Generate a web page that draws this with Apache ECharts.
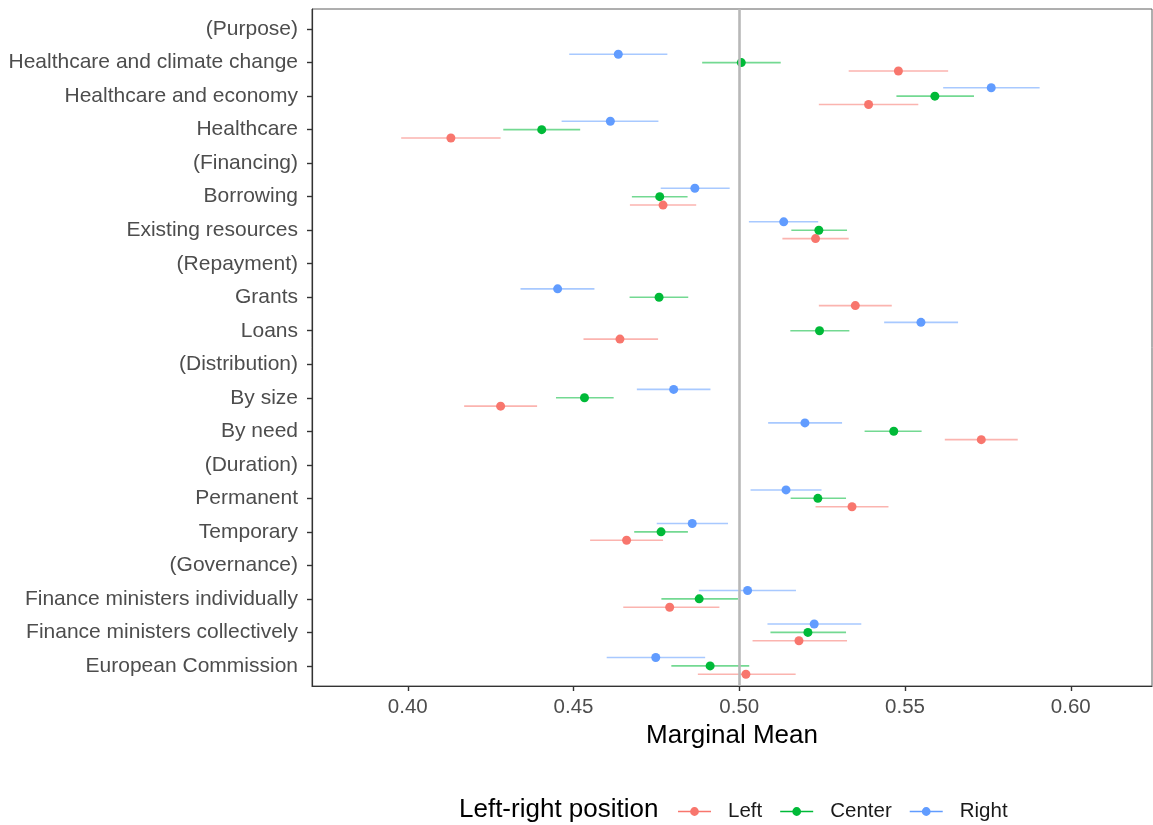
<!DOCTYPE html>
<html>
<head>
<meta charset="utf-8">
<script src="https://cdn.jsdelivr.net/npm/echarts@6/dist/echarts.min.js"></script>
<style>
  html, body { margin: 0; padding: 0; background: #fff; }
  #chart { width: 1153px; height: 825px; }
</style>
</head>
<body>
<div id="chart"></div>
<script>
const categories = ["(Purpose)","Healthcare and climate change","Healthcare and economy","Healthcare","(Financing)","Borrowing","Existing resources","(Repayment)","Grants","Loans","(Distribution)","By size","By need","(Duration)","Permanent","Temporary","(Governance)","Finance ministers individually","Finance ministers collectively","European Commission"];

const leftEst = [null, 0.548, 0.539, 0.413, null, 0.477, 0.523, null, 0.535, 0.464, null, 0.428, 0.573, null, 0.534, 0.466, null, 0.479, 0.518, 0.502];
const leftLo  = [null, 0.533, 0.524, 0.398, null, 0.467, 0.513, null, 0.524, 0.453, null, 0.417, 0.562, null, 0.523, 0.455, null, 0.465, 0.504, 0.4875];
const leftHi  = [null, 0.563, 0.554, 0.428, null, 0.487, 0.533, null, 0.546, 0.4755, null, 0.439, 0.584, null, 0.545, 0.477, null, 0.494, 0.5325, 0.517];

const centerEst = [null, 0.5006, 0.559, 0.4404, null, 0.476, 0.524, null, 0.4758, 0.5242, null, 0.4533, 0.5466, null, 0.5237, 0.4764, null, 0.4879, 0.5207, 0.4912];
const centerLo  = [null, 0.4888, 0.5474, 0.4288, null, 0.4676, 0.5157, null, 0.4669, 0.5154, null, 0.4447, 0.5378, null, 0.5155, 0.4683, null, 0.4765, 0.5094, 0.4795];
const centerHi  = [null, 0.5125, 0.5708, 0.452, null, 0.4844, 0.5325, null, 0.4846, 0.5332, null, 0.4621, 0.555, null, 0.5322, 0.4845, null, 0.4996, 0.5322, 0.503];

const rightEst = [null, 0.4635, 0.576, 0.4611, null, 0.4866, 0.5134, null, 0.4452, 0.5548, null, 0.4802, 0.5198, null, 0.5141, 0.4858, null, 0.5025, 0.5226, 0.4748];
const rightLo  = [null, 0.4487, 0.5615, 0.4464, null, 0.4763, 0.5029, null, 0.434, 0.5437, null, 0.4691, 0.5087, null, 0.5034, 0.4751, null, 0.4878, 0.5085, 0.46];
const rightHi  = [null, 0.4783, 0.5906, 0.4756, null, 0.4971, 0.5238, null, 0.4563, 0.566, null, 0.4913, 0.531, null, 0.5248, 0.4966, null, 0.5171, 0.5368, 0.4897];

const xTicks = [0.40, 0.45, 0.50, 0.55, 0.60];
const seriesNames = ["Left", "Center", "Right"];
const colors = ["#F8766D", "#00BA38", "#619CFF"];
const dodge = [0.25, 0, -0.25];

const FONT = '"Liberation Sans", Arial, Helvetica, sans-serif';
const groups = [
  [leftEst, leftLo, leftHi],
  [centerEst, centerLo, centerHi],
  [rightEst, rightLo, rightHi]
];

const series = [];
groups.forEach((g, k) => {
  const [est, lo, hi] = g;
  const ciData = [];
  const ptData = [];
  est.forEach((v, i) => {
    if (v == null) return;
    ciData.push([lo[i], hi[i], i + dodge[k]]);
    ptData.push([v, i + dodge[k]]);
  });
  series.push({
    name: seriesNames[k] + ' CI',
    type: 'custom',
    z: 2,
    silent: true,
    encode: { x: [0, 1], y: 2 },
    data: ciData,
    renderItem: (params, api) => {
      const p1 = api.coord([api.value(0), api.value(2)]);
      const p2 = api.coord([api.value(1), api.value(2)]);
      return {
        type: 'line',
        shape: { x1: p1[0], y1: p1[1], x2: p2[0], y2: p2[1] },
        style: { stroke: colors[k], lineWidth: 1.6, opacity: 0.55 }
      };
    }
  });
  series.push({
    name: seriesNames[k],
    type: 'scatter',
    z: 3,
    symbol: 'circle',
    symbolSize: 9,
    itemStyle: { color: colors[k], opacity: 1 },
    data: ptData
  });
});

// vertical reference line at 0.5
series.push({
  name: 'ref',
  type: 'line',
  z: 1,
  silent: true,
  data: [],
  markLine: {
    silent: true,
    symbol: 'none',
    label: { show: false },
    lineStyle: { color: '#B8B8B8', width: 2.6, type: 'solid' },
    data: [{ xAxis: 0.5 }]
  }
});

const legendIcon = 'path://M0,3.25 L33,3.25 L33,4.75 L0,4.75 Z M12.1,4 A4.4,4.4 0 1 1 20.9,4 A4.4,4.4 0 1 1 12.1,4 Z';

const option = {
  animation: false,
  backgroundColor: '#ffffff',
  textStyle: { fontFamily: FONT },
  title: {
    text: 'Left-right position',
    left: 459,
    top: 797,
    padding: 0,
    textStyle: { fontFamily: FONT, fontSize: 26, fontWeight: 'normal', color: '#000' }
  },
  legend: {
    data: seriesNames,
    left: 678,
    top: 801,
    padding: 0,
    orient: 'horizontal',
    itemWidth: 33,
    itemHeight: 8.8,
    itemGap: 18,
    icon: legendIcon,
    textStyle: { fontFamily: FONT, fontSize: 20.5, color: '#1a1a1a', padding: [0, 0, 0, 12] },
    selectedMode: false
  },
  grid: {
    left: 312,
    right: 1,
    top: 9,
    bottom: 139,
    show: true,
    borderColor: '#5f5f5f',
    borderWidth: 1,
    containLabel: false
  },
  xAxis: {
    type: 'value',
    min: 0.3711,
    max: 0.6245,
    name: 'Marginal Mean',
    nameLocation: 'middle',
    nameGap: 35,
    nameTextStyle: { fontFamily: FONT, fontSize: 26, color: '#000' },
    axisLine: { show: true, onZero: false, lineStyle: { color: '#333333', width: 1.2 } },
    axisTick: { show: true, length: 5, lineStyle: { color: '#333333', width: 1.4 }, customValues: xTicks },
    axisLabel: {
      show: true, margin: 11, fontFamily: FONT, fontSize: 20.5, color: '#4D4D4D',
      customValues: xTicks,
      formatter: v => v.toFixed(2)
    },
    splitLine: { show: false }
  },
  yAxis: {
    type: 'value',
    inverse: true,
    min: -0.6,
    max: 19.6,
    axisLine: { show: true, onZero: false, lineStyle: { color: '#333333', width: 1.2 } },
    axisTick: { show: true, length: 5, lineStyle: { color: '#333333', width: 1.4 }, customValues: categories.map((c, i) => i) },
    axisLabel: {
      show: true, margin: 14, fontFamily: FONT, fontSize: 21, color: '#4D4D4D',
      padding: [3, 0, 0, 0],
      customValues: categories.map((c, i) => i),
      formatter: v => categories[Math.round(v)]
    },
    splitLine: { show: false }
  },
  series: series
};

const chart = echarts.init(document.getElementById('chart'), null, { renderer: 'canvas' });
chart.setOption(option);
</script>
</body>
</html>
